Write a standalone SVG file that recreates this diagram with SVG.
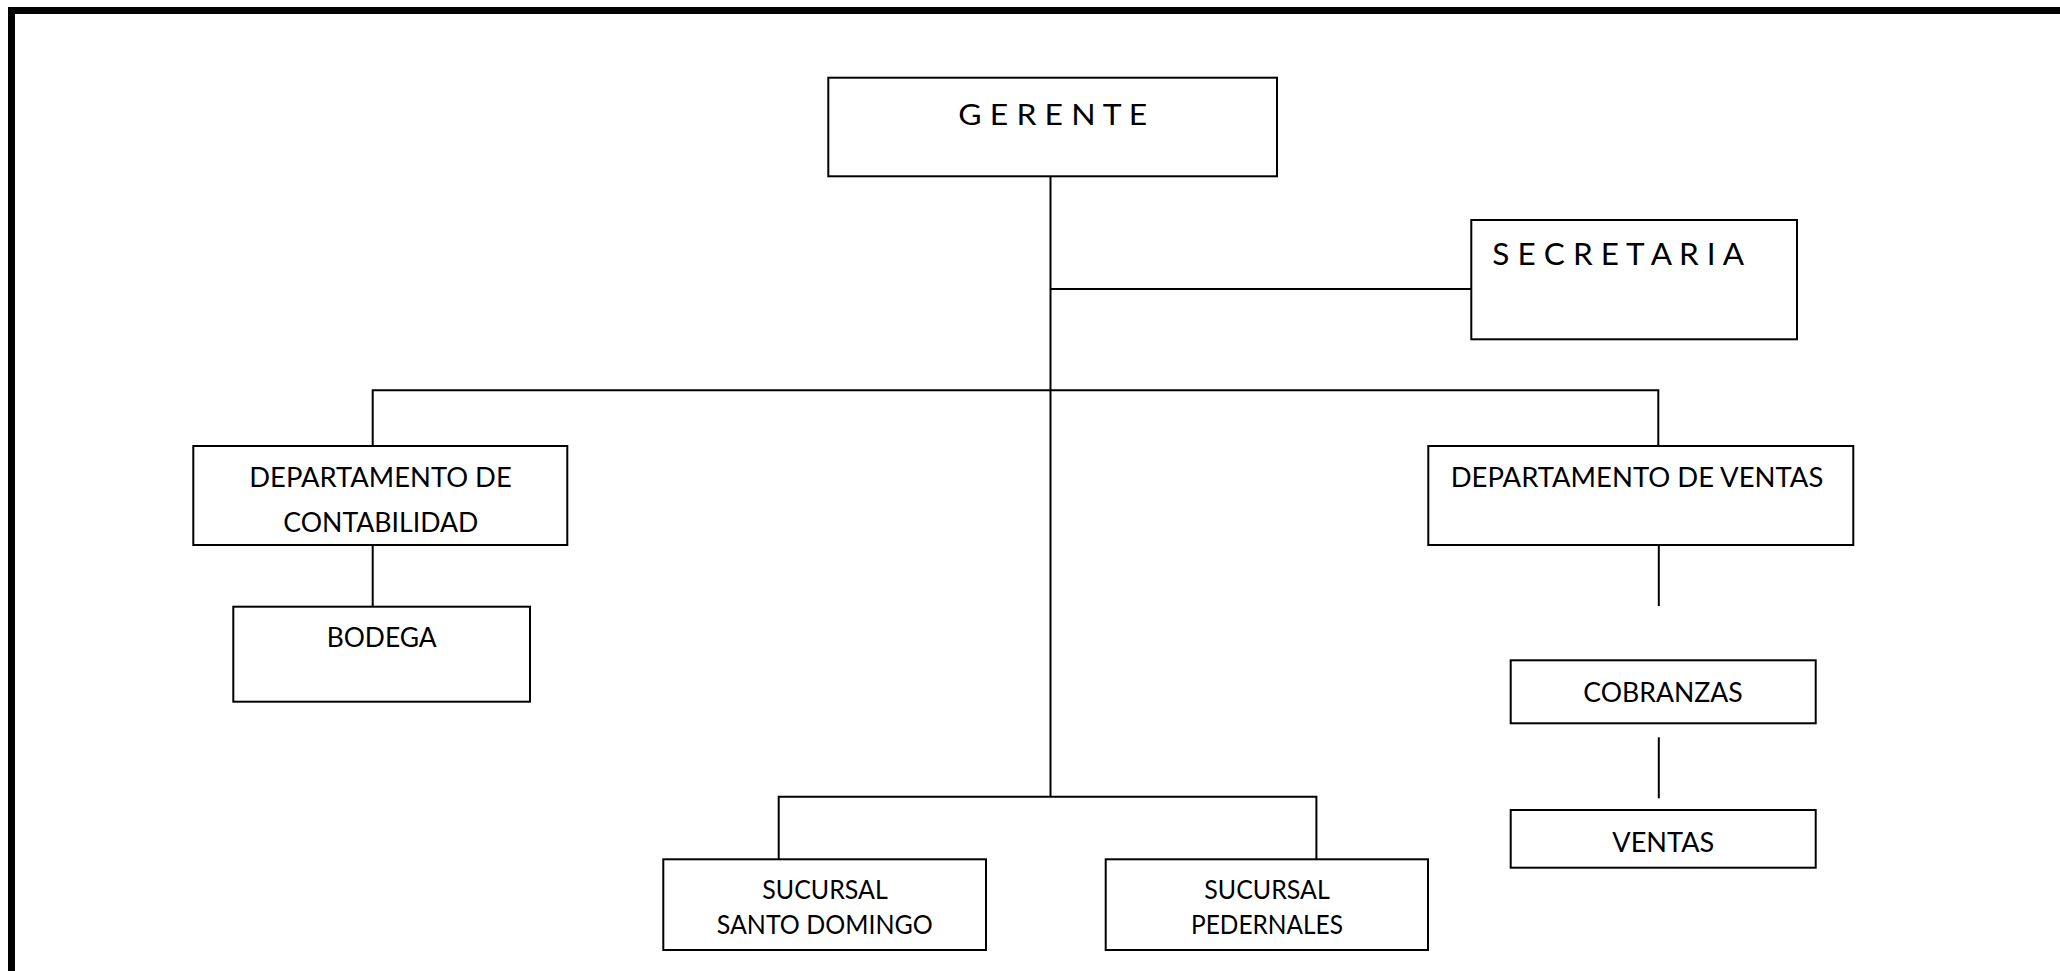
<svg xmlns="http://www.w3.org/2000/svg" width="2060" height="971" viewBox="0 0 2060 971">
<style>
.box{fill:#fff;stroke:#000;stroke-width:2}
.ln{stroke:#000;stroke-width:2;fill:none}
.t{font-family:Lato,"Open Sans","Liberation Sans",sans-serif;font-size:27px;fill:#000;text-anchor:middle}
</style>
<rect x="0" y="0" width="2060" height="971" fill="#fff"/>
<rect x="11.5" y="10.5" width="2100" height="1000" fill="none" stroke="#000" stroke-width="7"/>
<g id="connectors">
<line class="ln" x1="1050.5" y1="172" x2="1050.5" y2="797"/>
<line class="ln" x1="1050.5" y1="289" x2="1471" y2="289"/>
<polyline class="ln" points="372.7,446 372.7,390.3 1658.3,390.3 1658.3,446"/>
<line class="ln" x1="372.7" y1="545" x2="372.7" y2="607"/>
<line class="ln" x1="1658.8" y1="545" x2="1658.8" y2="606"/>
<line class="ln" x1="1658.8" y1="737.3" x2="1658.8" y2="798.3"/>
<polyline class="ln" points="778.7,862 778.7,796.7 1316.4,796.7 1316.4,862"/>
</g>
<g id="gerente">
<rect class="box" x="828.3" y="77.7" width="448.7" height="98.6"/>
<text class="t" x="1052.8" y="125" style="font-size:28px" textLength="189" lengthAdjust="spacingAndGlyphs">G E R E N T E</text>
</g>
<g id="secretaria">
<rect class="box" x="1471.3" y="220" width="325.7" height="119.3"/>
<text class="t" x="1618.2" y="265" style="font-size:31px" textLength="251.7" lengthAdjust="spacingAndGlyphs">S E C R E T A R I A</text>
</g>
<g id="contabilidad">
<rect class="box" x="193.3" y="446" width="374" height="99"/>
<text class="t" x="380.5" y="487" textLength="262.4" lengthAdjust="spacingAndGlyphs">DEPARTAMENTO DE</text>
<text class="t" x="380.8" y="531.7" textLength="195" lengthAdjust="spacingAndGlyphs">CONTABILIDAD</text>
</g>
<g id="bodega">
<rect class="box" x="233.3" y="606.7" width="296.7" height="95"/>
<text class="t" x="381.7" y="646.7" textLength="110" lengthAdjust="spacingAndGlyphs">BODEGA</text>
</g>
<g id="dep-ventas">
<rect class="box" x="1428.3" y="446" width="425" height="99"/>
<text class="t" x="1637" y="486.7" textLength="372.6" lengthAdjust="spacingAndGlyphs">DEPARTAMENTO DE VENTAS</text>
</g>
<g id="cobranzas">
<rect class="box" x="1510.7" y="660.3" width="305" height="63"/>
<text class="t" x="1663" y="702.3" textLength="159.4" lengthAdjust="spacingAndGlyphs">COBRANZAS</text>
</g>
<g id="ventas">
<rect class="box" x="1510.7" y="810" width="305" height="57.7"/>
<text class="t" x="1663.3" y="851.7" textLength="102" lengthAdjust="spacingAndGlyphs">VENTAS</text>
</g>
<g id="santo-domingo">
<rect class="box" x="663.3" y="859.3" width="322.7" height="90.7"/>
<text class="t" x="825" y="899" style="font-size:26.5px" textLength="125.4" lengthAdjust="spacingAndGlyphs">SUCURSAL</text>
<text class="t" x="824.7" y="934" style="font-size:26.5px" textLength="216" lengthAdjust="spacingAndGlyphs">SANTO DOMINGO</text>
</g>
<g id="pedernales">
<rect class="box" x="1105.7" y="859.3" width="322.3" height="90.7"/>
<text class="t" x="1267" y="899" style="font-size:26.5px" textLength="125.4" lengthAdjust="spacingAndGlyphs">SUCURSAL</text>
<text class="t" x="1267" y="934" style="font-size:26.5px" textLength="152" lengthAdjust="spacingAndGlyphs">PEDERNALES</text>
</g>
</svg>
